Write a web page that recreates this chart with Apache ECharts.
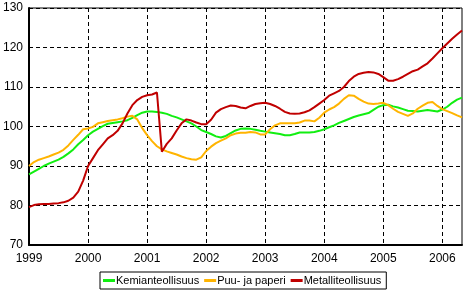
<!DOCTYPE html>
<html>
<head>
<meta charset="utf-8">
<script src="https://cdn.jsdelivr.net/npm/echarts@6/dist/echarts.min.js"></script>
<style>
html,body{margin:0;padding:0;background:#fff;}
#c{width:463px;height:291px;}
</style>
</head>
<body>
<div id="c"></div>
<script>
// Monthly data, Jan 1999 .. May 2006
const years = [1999, 2000, 2001, 2002, 2003, 2004, 2005, 2006];
const monthsInLastYear = 5;
const yTicks = [70, 80, 90, 100, 110, 120, 130];
const seriesNames = ["Kemianteollisuus", "Puu- ja paperi", "Metalliteollisuus"];

const kemia = [
  87.9, 88.6, 89.3, 90.0, 90.6, 91.1, 91.6, 92.3, 93.2, 94.2, 95.5, 96.6,
  97.8, 98.7, 99.4, 100.1, 100.7, 100.9, 101.1, 101.3, 101.6, 102.2, 102.9, 103.5,
  103.8, 103.8, 103.7, 103.5, 103.2, 102.7, 102.3, 101.8, 101.3, 100.8, 100.0, 99.1,
  98.6, 98.1, 97.5, 97.2, 97.6, 98.3, 99.0, 99.4, 99.5, 99.4, 99.2, 98.9,
  98.7, 98.5, 98.3, 98.1, 97.8, 97.8, 98.1, 98.5, 98.5, 98.5, 98.6, 98.9,
  99.3, 99.8, 100.3, 100.9, 101.4, 101.9, 102.4, 102.8, 103.1, 103.4, 104.2, 105.0,
  105.4, 105.5, 105.1, 104.8, 104.4, 104.0, 103.9, 103.8, 104.0, 104.2, 104.0, 103.8,
  104.3, 105.0, 106.0, 106.8, 107.3
];
const puu = [
  90.0, 91.0, 91.6, 92.0, 92.4, 92.9, 93.4, 94.1, 95.2, 96.6, 97.9, 99.3,
  99.5, 99.9, 100.8, 101.1, 101.4, 101.6, 101.8, 102.1, 102.5, 102.7, 101.8, 99.6,
  97.8, 96.3, 95.0, 94.2, 93.7, 93.3, 92.9, 92.4, 92.0, 91.7, 91.6, 92.2,
  93.8, 94.9, 95.8, 96.4, 97.0, 97.8, 98.2, 98.4, 98.4, 98.6, 98.5, 98.0,
  98.0, 99.3, 100.3, 100.8, 100.8, 100.8, 100.8, 101.0, 101.5, 101.5, 101.3, 102.2,
  103.5, 104.3, 104.9, 105.8, 107.0, 107.9, 107.8, 107.0, 106.3, 105.8, 105.7, 105.8,
  106.0, 105.4, 104.5, 103.7, 103.2, 102.7, 103.3, 104.5, 105.3, 106.0, 106.2, 105.2,
  104.4, 103.9, 103.4, 102.8, 102.3
];
const metalli = [
  79.6, 80.1, 80.3, 80.4, 80.4, 80.5, 80.6, 80.8, 81.2, 82.0, 83.5, 86.3,
  90.0, 92.0, 94.0, 95.5, 97.0, 97.8, 98.9, 100.8, 103.3, 105.4, 106.7, 107.5,
  107.9, 108.1, 108.6, 93.6, 95.6, 97.0, 99.0, 100.8, 101.8, 101.5, 101.0, 100.6,
  100.6, 101.7, 103.5, 104.4, 104.9, 105.3, 105.2, 104.8, 104.6, 105.2, 105.7, 105.9,
  106.0, 105.7, 105.2, 104.5, 103.7, 103.3, 103.2, 103.3, 103.6, 104.1, 104.9, 105.8,
  106.7, 107.8, 108.4, 109.0, 110.0, 111.5, 112.6, 113.3, 113.6, 113.8, 113.7, 113.3,
  112.5, 111.6, 111.6, 112.0, 112.6, 113.3, 114.0, 114.4, 115.2, 116.0, 117.2, 118.5,
  119.8, 121.0, 122.2, 123.3, 124.3
];
const colors = ["#11EE11", "#FFB400", "#C00000"];

// category labels: one per month
const categories = [];
years.forEach(function (y, yi) {
  const n = yi === years.length - 1 ? monthsInLastYear : 12;
  for (let m = 1; m <= n; m++) categories.push(y + "M" + (m < 10 ? "0" + m : m));
});

const FONT = '"Liberation Sans", Arial, sans-serif';
const chart = echarts.init(document.getElementById('c'), null, {renderer: 'canvas'});
const dashed = {show: true, lineStyle: {color: '#000', type: [4, 3], width: 1}};

chart.setOption({
  animation: false,
  color: colors,
  grid: {left: 27, right: 1, top: 8, bottom: 46, show: true, borderColor: '#000', borderWidth: 1, backgroundColor: 'transparent'},
  legend: {
    left: 100, top: 272,
    padding: [3, 5, 3, 3],
    borderColor: '#000', borderWidth: 1,
    itemWidth: 12, itemHeight: 3, itemGap: 5,
    icon: 'rect',
    textStyle: {fontFamily: FONT, fontSize: 11, color: '#000', padding: [0, 0, 0, -4]},
    data: seriesNames
  },
  xAxis: {
    type: 'category',
    data: categories,
    boundaryGap: false,
    axisLine: {show: true, lineStyle: {color: '#000', width: 2}},
    axisTick: {show: false},
    axisLabel: {
      interval: 11, margin: 8, color: '#000', fontFamily: FONT, fontSize: 12,
      formatter: function (v) { return v.slice(0, 4); }
    },
    splitLine: Object.assign({interval: 11}, dashed)
  },
  yAxis: {
    type: 'value',
    min: yTicks[0], max: yTicks[yTicks.length - 1], interval: 10,
    axisLine: {show: true, lineStyle: {color: '#000', width: 2}},
    axisTick: {show: false},
    axisLabel: {margin: 6, color: '#000', fontFamily: FONT, fontSize: 12},
    splitLine: dashed
  },
  series: [
    {name: seriesNames[0], type: 'line', data: kemia, showSymbol: false, lineStyle: {width: 2}, z: 2},
    {name: seriesNames[1], type: 'line', data: puu, showSymbol: false, lineStyle: {width: 2}, z: 3},
    {name: seriesNames[2], type: 'line', data: metalli, showSymbol: false, lineStyle: {width: 2}, z: 4}
  ]
});
</script>
</body>
</html>
